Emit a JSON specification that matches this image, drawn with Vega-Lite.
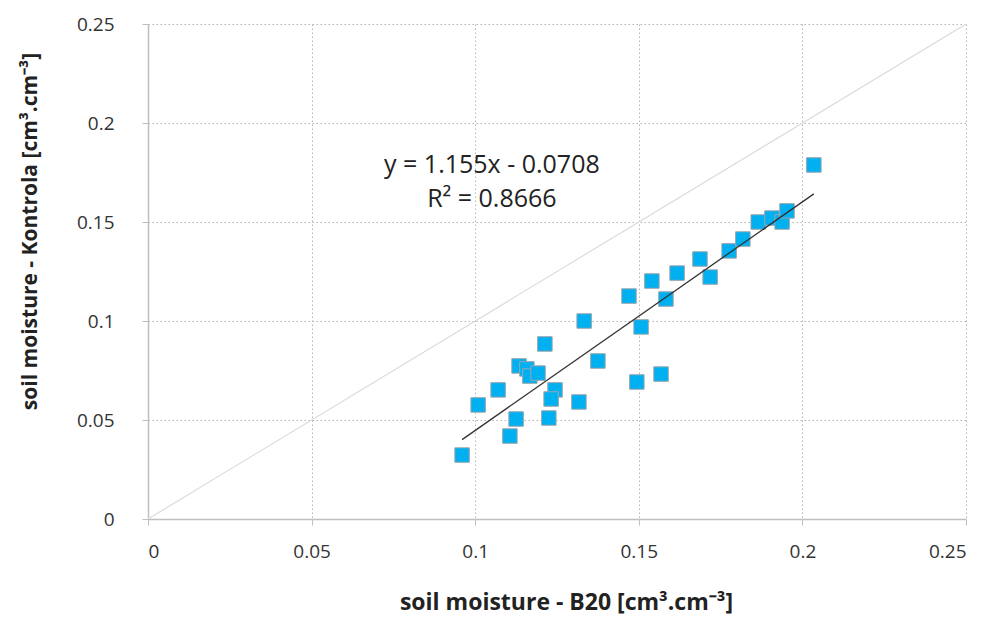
{
  "$schema": "https://vega.github.io/schema/vega-lite/v6.json",
  "autosize": {"type": "none"},
  "padding": {"left": 148, "top": 24, "right": 26, "bottom": 99},
  "width": 818,
  "height": 495,
  "background": "white",
  "config": {
    "view": {"stroke": null},
    "font": "Open Sans"
  },
  "datasets": {
    "pts": [
      {"b20": 0.0960, "kontrola": 0.0323},
      {"b20": 0.1009, "kontrola": 0.0576},
      {"b20": 0.1070, "kontrola": 0.0652},
      {"b20": 0.1106, "kontrola": 0.0419},
      {"b20": 0.1125, "kontrola": 0.0505},
      {"b20": 0.1134, "kontrola": 0.0773},
      {"b20": 0.1158, "kontrola": 0.0758},
      {"b20": 0.1167, "kontrola": 0.0722},
      {"b20": 0.1192, "kontrola": 0.0737},
      {"b20": 0.1213, "kontrola": 0.0884},
      {"b20": 0.1244, "kontrola": 0.0652},
      {"b20": 0.1232, "kontrola": 0.0606},
      {"b20": 0.1225, "kontrola": 0.0510},
      {"b20": 0.1317, "kontrola": 0.0591},
      {"b20": 0.1333, "kontrola": 0.1000},
      {"b20": 0.1375, "kontrola": 0.0798},
      {"b20": 0.1494, "kontrola": 0.0692},
      {"b20": 0.1470, "kontrola": 0.1126},
      {"b20": 0.1507, "kontrola": 0.0970},
      {"b20": 0.1540, "kontrola": 0.1202},
      {"b20": 0.1583, "kontrola": 0.1111},
      {"b20": 0.1617, "kontrola": 0.1242},
      {"b20": 0.1687, "kontrola": 0.1313},
      {"b20": 0.1718, "kontrola": 0.1222},
      {"b20": 0.1776, "kontrola": 0.1354},
      {"b20": 0.1818, "kontrola": 0.1414},
      {"b20": 0.1865, "kontrola": 0.1500},
      {"b20": 0.1907, "kontrola": 0.1520},
      {"b20": 0.1938, "kontrola": 0.1500},
      {"b20": 0.1953, "kontrola": 0.1556},
      {"b20": 0.2035, "kontrola": 0.1788},
      {"b20": 0.1568, "kontrola": 0.0732}
    ],
    "oneone": [
      {"b20": 0, "kontrola": 0},
      {"b20": 0.25, "kontrola": 0.25}
    ],
    "trend": [
      {"b20": 0.0960, "kontrola": 0.0401},
      {"b20": 0.2035, "kontrola": 0.1642}
    ],
    "eq": [
      {"b20": 0.1051, "kontrola": 0.1788, "label": "y = 1.155x - 0.0708"},
      {"b20": 0.1051, "kontrola": 0.1616, "label": "R² = 0.8666"}
    ]
  },
  "encoding": {
    "x": {
      "field": "b20", "type": "quantitative",
      "scale": {"domain": [0, 0.25], "nice": false, "zero": true},
      "axis": {
        "title": "soil moisture - B20 [cm³.cm⁻³]",
        "values": [0, 0.05, 0.1, 0.15, 0.2, 0.25],
        "format": "~g",
        "grid": true, "gridColor": "#b5b5b5", "gridDash": [1.5, 2.5], "gridWidth": 1,
        "domainColor": "#bfbfbf", "domainWidth": 1.5,
        "tickColor": "#bfbfbf", "tickSize": 6, "tickWidth": 1,
        "labelFontSize": 19, "labelColor": "#333333", "labelPadding": 17,
        "titleFontSize": 23, "titleFontWeight": "bold", "titleColor": "#222222", "titlePadding": 30,
        "titleX": 418
      }
    },
    "y": {
      "field": "kontrola", "type": "quantitative",
      "scale": {"domain": [0, 0.25], "nice": false, "zero": true},
      "axis": {
        "title": "soil moisture - Kontrola [cm³.cm⁻³]",
        "values": [0, 0.05, 0.1, 0.15, 0.2, 0.25],
        "format": "~g",
        "grid": true, "gridColor": "#b5b5b5", "gridDash": [1.5, 2.5], "gridWidth": 1,
        "domainColor": "#bfbfbf", "domainWidth": 1.5,
        "tickColor": "#bfbfbf", "tickSize": 6, "tickWidth": 1,
        "labelFontSize": 19, "labelColor": "#333333", "labelPadding": 28,
        "titleFontSize": 21, "titleFontWeight": "bold", "titleColor": "#222222", "titlePadding": 36,
        "titleY": 207
      }
    }
  },
  "layer": [
    {
      "data": {"name": "oneone"},
      "mark": {"type": "line", "color": "#dcdcdc", "strokeWidth": 1.2, "clip": true}
    },
    {
      "data": {"name": "pts"},
      "mark": {"type": "square", "filled": true, "fill": "#00B0F0", "stroke": "#9aa5ad", "strokeWidth": 1, "size": 210, "opacity": 1}
    },
    {
      "data": {"name": "trend"},
      "mark": {"type": "line", "color": "#333333", "strokeWidth": 1.3}
    },
    {
      "data": {"name": "eq"},
      "mark": {"type": "text", "fontSize": 25, "color": "#222222", "align": "center", "baseline": "middle", "font": "Open Sans"},
      "encoding": {"text": {"field": "label"}}
    }
  ]
}
